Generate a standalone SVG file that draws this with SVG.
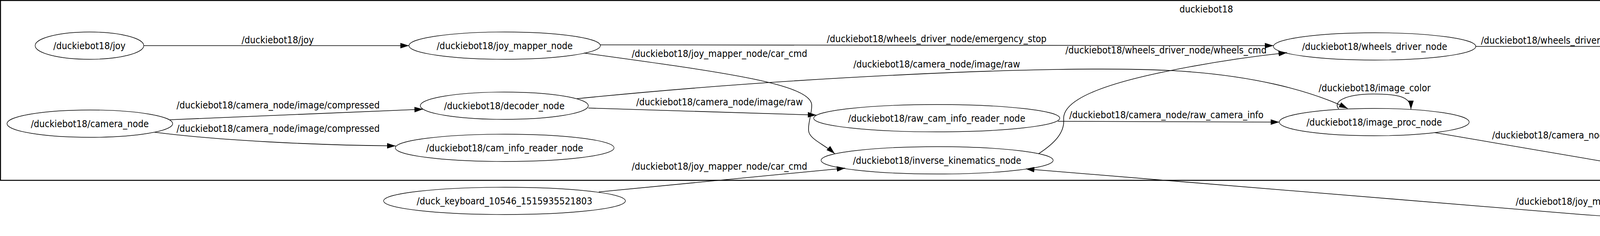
<svg xmlns="http://www.w3.org/2000/svg" width="6177" height="605" viewBox="0 0 6177 605">
<style>
text{font-family:"DejaVu Sans Condensed","DejaVu Sans",sans-serif;font-stretch:condensed;font-size:24.6px;fill:#000;text-anchor:middle}
.node ellipse{fill:none;stroke:#000;stroke-width:1.3}
.edges path{fill:none;stroke:#000;stroke-width:1.6;marker-end:url(#arr)}
.cluster rect{fill:none;stroke:#000;stroke-width:2.5}
</style>
<defs>
<marker id="arr" viewBox="0 0 22 14" refX="22" refY="7" markerWidth="22" markerHeight="14" markerUnits="userSpaceOnUse" orient="auto">
<path d="M0,0 L22,7 L0,14 z" fill="#000"/>
</marker>
</defs>
<rect width="6177" height="605" fill="#fff"/>
<g id="cluster_duckiebot18" class="cluster">
<rect x="1.25" y="1.25" width="6174" height="461"/>
<text x="3088" y="32">duckiebot18</text>
</g>
<g class="edges" id="connectors">
<path d="M368,117 L1047,117"/>
<path d="M435,307 L1083,280"/>
<path d="M396,339 C560,360 800,372 1013,374"/>
<path d="M1537,115 L3260,117"/>
<path d="M1495,136 C1850,185 2078,215 2078,270 C2078,295 2068,315 2070,335 C2072,357 2110,370 2137,394"/>
<path d="M1506,277 L2090,295"/>
<path d="M1477,253 C2000,200 2700,165 3000,181 C3200,192 3350,230 3450,278"/>
<path d="M2708,311 L3275,313"/>
<path d="M2659,394 C2700,367 2726,340 2723,305 C2720,250 2850,210 2996,181 C3100,160 3200,145 3295,135"/>
<path d="M3427,279 C3412,262 3440,241 3517,241 C3585,241 3612,250 3612,280"/>
<path d="M3777,119 L4434,119"/>
<path d="M5037,119 L5600,119"/>
<path d="M3673,340 L4549,490"/>
<path d="M1533,492 L2164,431"/>
<path d="M5600,575 C5000,582 4350,573 4050,550 L2626,433"/>
<path d="M4997,527 L5617,557"/>
<text x="711" y="111">/duckiebot18/joy</text>
<text x="712" y="278">/duckiebot18/camera_node/image/compressed</text>
<text x="712" y="338">/duckiebot18/camera_node/image/compressed</text>
<text x="2398" y="108">/duckiebot18/wheels_driver_node/emergency_stop</text>
<text x="1842" y="146">/duckiebot18/joy_mapper_node/car_cmd</text>
<text x="1842" y="270">/duckiebot18/camera_node/image/raw</text>
<text x="2398" y="173">/duckiebot18/camera_node/image/raw</text>
<text x="2986" y="303">/duckiebot18/camera_node/raw_camera_info</text>
<text x="2985" y="137">/duckiebot18/wheels_driver_node/wheels_cmd</text>
<text x="3519" y="234">/duckiebot18/image_color</text>
<text x="4105" y="112">/duckiebot18/wheels_driver_node/wheels_cmd_executed</text>
<text x="5318" y="112">/duckiebot18/forward_kinematics_node/velocity</text>
<text x="4105" y="355">/duckiebot18/camera_node/image/rect/compressed</text>
<text x="1842" y="435">/duckiebot18/joy_mapper_node/car_cmd</text>
<text x="4105" y="525">/duckiebot18/joy_mapper_node/car_cmd</text>
<text x="5317" y="521">/rect_location</text>
</g>
<g id="n_joy" class="node"><ellipse cx="229" cy="117" rx="139" ry="35"/><text x="229" y="125.5">/duckiebot18/joy</text></g>
<g id="n_camera_node" class="node"><ellipse cx="230" cy="317" rx="212" ry="35"/><text x="230" y="325.5">/duckiebot18/camera_node</text></g>
<g id="n_joy_mapper_node" class="node"><ellipse cx="1292" cy="117" rx="245" ry="35"/><text x="1292" y="125.5">/duckiebot18/joy_mapper_node</text></g>
<g id="n_decoder_node" class="node"><ellipse cx="1291" cy="271" rx="215" ry="35"/><text x="1291" y="279.5">/duckiebot18/decoder_node</text></g>
<g id="n_cam_info_reader_node" class="node"><ellipse cx="1292" cy="379" rx="280" ry="35"/><text x="1292" y="387.5">/duckiebot18/cam_info_reader_node</text></g>
<g id="n_duck_keyboard" class="node"><ellipse cx="1291.5" cy="515" rx="309.5" ry="35"/><text x="1291.5" y="523.5">/duck_keyboard_10546_1515935521803</text></g>
<g id="n_raw_cam_info_reader_node" class="node"><ellipse cx="2398" cy="303" rx="315" ry="35"/><text x="2398" y="311.5">/duckiebot18/raw_cam_info_reader_node</text></g>
<g id="n_inverse_kinematics_node" class="node"><ellipse cx="2399" cy="411" rx="297" ry="35"/><text x="2399" y="419.5">/duckiebot18/inverse_kinematics_node</text></g>
<g id="n_wheels_driver_node" class="node"><ellipse cx="3519" cy="119" rx="259" ry="35"/><text x="3519" y="127.5">/duckiebot18/wheels_driver_node</text></g>
<g id="n_image_proc_node" class="node"><ellipse cx="3518" cy="313" rx="243" ry="35"/><text x="3518" y="321.5">/duckiebot18/image_proc_node</text></g>
<g id="n_forward_kinematics_node" class="node"><ellipse cx="4736" cy="119" rx="302" ry="35"/><text x="4736" y="127.5">/duckiebot18/forward_kinematics_node</text></g>
<g id="n_duck_eye" class="node"><ellipse cx="4734" cy="515" rx="268" ry="35"/><text x="4734" y="523.5">/duck_eye_19482_1515940724834</text></g>
<g id="n_velocity_to_pose_node" class="node"><ellipse cx="5880" cy="119" rx="280" ry="35"/><text x="5880" y="127.5">/duckiebot18/velocity_to_pose_node</text></g>
<g id="n_duck_brain" class="node"><ellipse cx="5880" cy="569" rx="280" ry="35"/><text x="5880" y="577.5">/duck_brain_19549_1515940728883</text></g>
</svg>
